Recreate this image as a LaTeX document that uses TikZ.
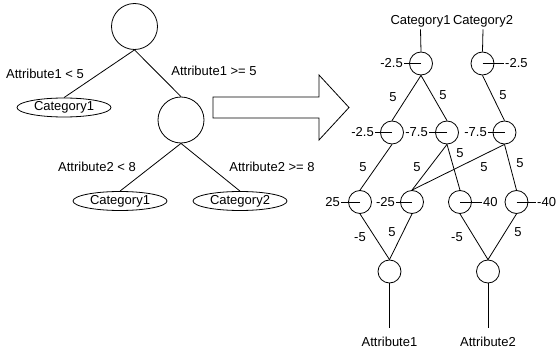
\documentclass[tikz,border=0pt]{standalone}
\usepackage{fontspec}
\setmainfont{Liberation Sans}
\usetikzlibrary{shapes.geometric}
\begin{document}
\begin{tikzpicture}[x=1pt,y=-1pt,line width=0.8pt,
  every node/.style={font=\fontsize{13}{15}\selectfont},
  bigc/.style={draw,circle,minimum size=46pt,inner sep=0pt},
  smallc/.style={draw,circle,minimum size=23pt,inner sep=0pt},
  cat/.style={draw,ellipse,minimum width=94pt,minimum height=19pt,inner sep=0pt},
  lbl/.style={inner sep=0.8pt},
  wt/.style={inner sep=0pt},
  tl/.style={inner sep=0pt}]
\useasboundingbox (0,0) rectangle (558,353);

% ---------- left decision tree ----------
\node[bigc] (root) at (134.5,26.5) {};
\node[cat] (c1a) at (64,107.5) {Category1};
\node[bigc] (n2) at (181,120) {};
\node[cat] (c1b) at (120,201) {Category1};
\node[cat] (c2b) at (240,201) {Category2};
\draw (root.south) -- (c1a.north);
\draw (root.south) -- (n2.north);
\draw (n2.south) -- (c1b.north);
\draw (n2.south) -- (c2b.north);
\node[tl] (t1) at (45,74) {Attribute1 < 5};
\node[tl] (t2) at (214,71) {Attribute1 >= 5};
\node[tl] (t3) at (97,167) {Attribute2 < 8};
\node[tl] (t4) at (272,167) {Attribute2 >= 8};

% ---------- big arrow ----------
\draw (213,97) -- (319,97) -- (319,75) -- (349,107.5) -- (319,140) -- (319,118) -- (213,118) -- cycle;

% ---------- network ----------
\node[inner sep=2pt] (oc1) at (420.5,21) {Category1};
\node[inner sep=2pt] (oc2) at (483,21) {Category2};

\node[smallc] (A) at (421,63.5) {};
\node[smallc] (B) at (482.5,63.5) {};
\node[smallc] (C) at (392,132.5) {};
\node[smallc] (D) at (447,132.5) {};
\node[smallc] (E) at (504.5,132.5) {};
\node[smallc] (F) at (360,202) {};
\node[smallc] (G) at (412,202) {};
\node[smallc] (H) at (460,202) {};
\node[smallc] (I) at (516.5,202) {};
\node[smallc] (J) at (389.5,271.5) {};
\node[smallc] (K) at (488,271.5) {};

\draw (oc1.south) -- (A.north);
\draw (oc2.south) -- (B.north);

% bias labels
\node[lbl,anchor=east] (lA) at (404,63.5) {-2.5};
\node[lbl,anchor=west] (lB) at (504,63.5) {-2.5};
\node[lbl,anchor=east] (lC) at (375,132.5) {-2.5};
\node[lbl,anchor=east] (lD) at (429,132.5) {-7.5};
\node[lbl,anchor=east] (lE) at (488,132.5) {-7.5};
\node[lbl,anchor=east] (lF) at (341,202) {25};
\node[lbl,anchor=east] (lG) at (396,202) {-25};
\node[lbl,anchor=west] (lH) at (482,202) {40};
\node[lbl,anchor=west] (lI) at (536,202) {-40};
\foreach \n in {A,B,C,D,E,F,G,H,I} \draw (\n.center) -- (l\n);

% connections
\draw (A.south) -- (C.north);
\draw (A.south) -- (D.north);
\draw (B.south) -- (E.north);
\draw (C.south) -- (F.north);
\draw (D.south) -- (G.north);
\draw (D.south) -- (H.north);
\draw (E.south) -- (G.north);
\draw (E.south) -- (I.north);
\draw (F.south) -- (J.north);
\draw (G.south) -- (J.north);
\draw (H.south) -- (K.north);
\draw (I.south) -- (K.north);

% weights
\node[wt] (wAC) at (393,97) {5};
\node[wt] (wAD) at (443,95) {5};
\node[wt] (wBE) at (503,95) {5};
\node[wt] (wCF) at (363,167) {5};
\node[wt] (wDG) at (417,167) {5};
\node[wt] (wDH) at (460,153) {5};
\node[wt] (wEG) at (484,167) {5};
\node[wt] (wEI) at (520,163) {5};
\node[wt] (wFJ) at (360,237) {-5};
\node[wt] (wGJ) at (392,232) {5};
\node[wt] (wHK) at (457,237) {-5};
\node[wt] (wIK) at (518,232) {5};

% inputs
\coordinate (a1end) at (389.5,328);
\coordinate (a2end) at (488,328);
\node[tl,anchor=base] (in1) at (389.5,346.5) {Attribute1};
\node[tl,anchor=base] (in2) at (488,346.5) {Attribute2};
\draw (J.south) -- (a1end);
\draw (K.south) -- (a2end);
\end{tikzpicture}
\end{document}
